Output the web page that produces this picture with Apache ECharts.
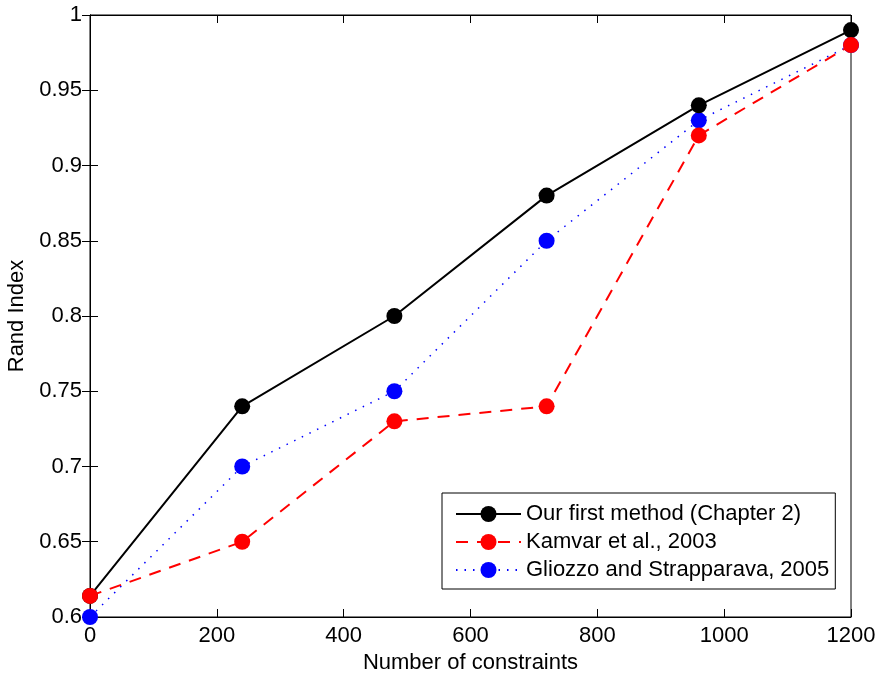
<!DOCTYPE html>
<html>
<head>
<meta charset="utf-8">
<script src="https://cdn.jsdelivr.net/npm/echarts@6/dist/echarts.min.js"></script>
<style>html,body{margin:0;padding:0;background:#fff;}#c{width:878px;height:675px;}</style>
</head>
<body>
<div id="c"></div>
<script>
const xValues = [0, 240, 480, 720, 960, 1200];
const ourMethod = [0.614, 0.74, 0.80, 0.88, 0.94, 0.99];
const kamvar = [0.614, 0.65, 0.73, 0.74, 0.92, 0.98];
const gliozzo = [0.60, 0.70, 0.75, 0.85, 0.93, 0.98];
const seriesNames = ['Our first method (Chapter 2)', 'Kamvar et al., 2003', 'Gliozzo and Strapparava, 2005'];

const FONT = 'Liberation Sans, Arial, Helvetica, sans-serif';
const FS = 22;
const pairs = a => xValues.map((x, i) => [x, a[i]]);

const chart = echarts.init(document.getElementById('c'), null, {renderer: 'canvas'});
const axisCommon = {
  axisLine: {show: true, lineStyle: {color: '#000', width: 1}},
  axisTick: {show: true, inside: true, length: 8, lineStyle: {color: '#000'}},
  splitLine: {show: false}
};
chart.setOption({
  animation: false,
  backgroundColor: '#fff',
  grid: {left: 90, right: 27, top: 15, bottom: 58, containLabel: false, outerBoundsMode: 'none',
    show: true, borderColor: '#000', borderWidth: 1, backgroundColor: 'transparent'},
  legend: {
    orient: 'vertical', left: 442, top: 493,
    backgroundColor: '#fff', borderColor: '#000', borderWidth: 1,
    padding: [10, 6, 8, 13], itemGap: 6, itemWidth: 65, itemHeight: 20,
    textStyle: {fontFamily: FONT, fontSize: FS, color: '#000'},
    data: seriesNames
  },
  xAxis: [
    Object.assign({type: 'value', min: 0, max: 1200, interval: 200,
      name: 'Number of constraints', nameLocation: 'middle', nameGap: 33,
      nameTextStyle: {fontFamily: FONT, fontSize: FS, color: '#000'},
      axisLabel: {fontFamily: FONT, fontSize: FS, color: '#000', margin: 8, formatter: v => String(v)}}, axisCommon),
    Object.assign({type: 'value', position: 'top', min: 0, max: 1200, interval: 200,
      axisLabel: {show: false}}, axisCommon)
  ],
  yAxis: [
    Object.assign({type: 'value', min: 0.6, max: 1, interval: 0.05,
      name: 'Rand Index', nameLocation: 'middle', nameGap: 62, nameRotate: 90,
      nameTextStyle: {fontFamily: FONT, fontSize: FS, color: '#000'},
      axisLabel: {fontFamily: FONT, fontSize: FS, color: '#000', margin: 8,
        formatter: v => String(Math.round(v * 100) / 100)}}, axisCommon),
    Object.assign({type: 'value', position: 'right', min: 0.6, max: 1, interval: 0.05,
      axisLabel: {show: false}}, axisCommon)
  ],
  series: [
    {name: seriesNames[0], type: 'line', data: pairs(ourMethod), symbol: 'circle', symbolSize: 16,
      itemStyle: {color: '#000'}, lineStyle: {color: '#000', width: 2, type: 'solid'}, z: 3},
    {name: seriesNames[1], type: 'line', data: pairs(kamvar), symbol: 'circle', symbolSize: 16,
      itemStyle: {color: '#ff0000'}, lineStyle: {color: '#ff0000', width: 2, type: [12, 9]}, z: 4},
    {name: seriesNames[2], type: 'line', data: pairs(gliozzo), symbol: 'circle', symbolSize: 16,
      itemStyle: {color: '#0000ff'}, lineStyle: {color: '#0000ff', width: 1.5, type: [1.5, 7]}, z: 2}
  ]
});
</script>
</body>
</html>
